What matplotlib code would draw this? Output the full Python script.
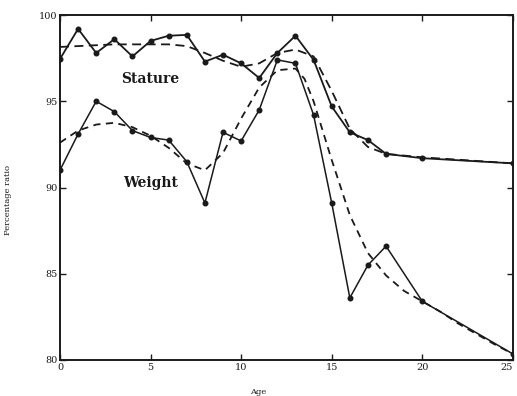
import matplotlib
matplotlib.use("Agg")
import matplotlib.pyplot as plt

# Observed data (solid lines with points)
stature_age = [0, 1, 2, 3, 4, 5, 6, 7, 8, 9, 10, 11, 12, 13, 14, 15, 16, 17, 18, 20, 25]
stature_val = [97.45, 99.2, 97.8, 98.6, 97.6, 98.5, 98.8, 98.85, 97.3, 97.7, 97.2, 96.35,
               97.8, 98.8, 97.4, 94.7, 93.2, 92.75, 91.95, 91.7, 91.4]

weight_age = [0, 1, 2, 3, 4, 5, 6, 7, 8, 9, 10, 11, 12, 13, 14, 15, 16, 17, 18, 20, 25]
weight_val = [91.0, 93.1, 95.0, 94.4, 93.3, 92.9, 92.75, 91.5, 89.1, 93.2, 92.7, 94.5,
              97.4, 97.2, 94.2, 89.1, 83.6, 85.5, 86.6, 83.4, 80.35]

# Smoothed curves (dashed)
stature_fit_age = [0, 1, 2, 3, 4, 5, 6, 7, 8, 9, 10, 11, 12, 13, 14, 15, 16, 17, 18, 20, 25]
stature_fit_val = [98.15, 98.2, 98.25, 98.3, 98.3, 98.3, 98.3, 98.2, 97.8, 97.35, 97.0, 97.2,
                   97.8, 98.0, 97.6, 95.6, 93.4, 92.35, 91.95, 91.75, 91.4]

weight_fit_age = [0, 1, 2, 3, 4, 5, 6, 7, 8, 9, 10, 11, 12, 13, 13.5, 14, 15, 16, 17, 18, 19,
                  20, 21, 22, 23, 24, 25]
weight_fit_val = [92.6, 93.3, 93.65, 93.75, 93.5, 93.0, 92.3, 91.4, 91.0, 92.0, 94.0, 95.8,
                  96.8, 96.9, 96.3, 95.0, 91.6, 88.4, 86.2, 84.9, 84.0,
                  83.4, 82.8, 82.1, 81.5, 80.9, 80.35]

x_ticks = [0, 5, 10, 15, 20, 25]
y_ticks = [80, 85, 90, 95, 100]

ink = "#1a1a1a"
plt.rcParams["font.family"] = ["DejaVu Serif"]

fig = plt.figure(figsize=(5.17, 3.96), dpi=100)
ax = fig.add_axes([0.116, 0.091, 0.876, 0.871])

ax.plot(stature_age, stature_val, "-", color=ink, lw=1.3, marker="o", ms=3.3)
ax.plot(weight_age, weight_val, "-", color=ink, lw=1.1, marker="o", ms=3.3)
ax.plot(stature_fit_age, stature_fit_val, color=ink, lw=1.3, dashes=(5, 3))
ax.plot(weight_fit_age, weight_fit_val, color=ink, lw=1.3, dashes=(4, 3))

ax.set_xlim(0, 25)
ax.set_ylim(80, 100)
ax.set_xticks(x_ticks)
ax.set_yticks(y_ticks)
ax.set_xticklabels([str(t) for t in x_ticks], fontsize=7, color=ink)
ax.set_yticklabels([str(t) for t in y_ticks], fontsize=7, color=ink)
ax.get_xticklabels()[-1].set_horizontalalignment("right")
ax.tick_params(direction="in", length=4, width=1, top=True, right=True, pad=2, colors=ink)
for s in ax.spines.values():
    s.set_linewidth(1.4)
    s.set_color(ink)

ax.text(5.0, 96.3, "Stature", fontsize=10, fontweight="bold", ha="center", va="center", color=ink)
ax.text(5.0, 90.25, "Weight", fontsize=10, fontweight="bold", ha="center", va="center", color=ink)

ax.set_xlabel("Age", fontsize=6, color=ink)
ax.set_ylabel("Percentage ratio", fontsize=6, color=ink)
ax.xaxis.set_label_coords(0.437, -0.081)
ax.yaxis.set_label_coords(-0.106, 0.464)

fig.savefig("out.png", dpi=100)
